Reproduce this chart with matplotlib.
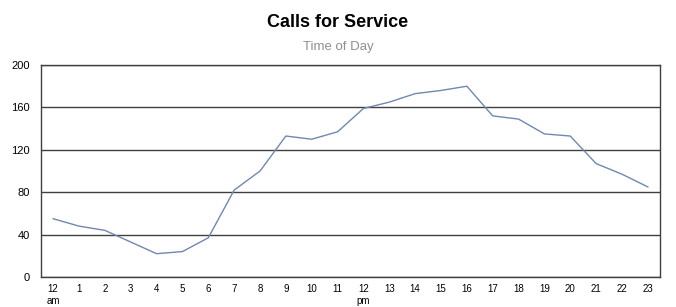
import matplotlib

matplotlib.use("Agg")
import matplotlib.pyplot as plt

hours = list(range(24))
hour_labels = ["12\nam", "1", "2", "3", "4", "5", "6", "7", "8", "9", "10", "11",
               "12\npm", "13", "14", "15", "16", "17", "18", "19", "20", "21", "22", "23"]
calls = [55, 48, 44, 33, 22, 24, 37, 82, 100, 133, 130, 137,
         159, 165, 173, 176, 180, 152, 149, 135, 133, 107, 97, 85]
y_ticks = [0, 40, 80, 120, 160, 200]

plt.rcParams["font.family"] = ["Liberation Sans", "DejaVu Sans"]

fig = plt.figure(figsize=(6.76, 3.07), dpi=100)
ax = fig.add_axes([0.0607, 0.0977, 0.9156, 0.6905])

ax.plot(hours, calls, color="#7088b0", linewidth=1.0)

ax.set_xlim(-0.47, 23.47)
ax.set_ylim(0, 200)
ax.set_yticks(y_ticks)
ax.set_xticks(hours)
ax.set_xticklabels(hour_labels, fontsize=7, linespacing=1.25)
ax.tick_params(axis="y", labelsize=8, length=0, pad=8)
ax.tick_params(axis="x", length=0, pad=5)
ax.grid(axis="y", color="#404040", linewidth=1.0)
ax.set_axisbelow(True)
for s in ax.spines.values():
    s.set_color("#404040")
    s.set_linewidth(1.0)

fig.text(0.5, 0.928, "Calls for Service", ha="center", va="center",
         fontsize=13, fontweight="bold", color="black")
fig.text(0.5, 0.847, "Time of Day", ha="center", va="center",
         fontsize=9.5, color="#909090")

fig.savefig("out.png", dpi=100)
